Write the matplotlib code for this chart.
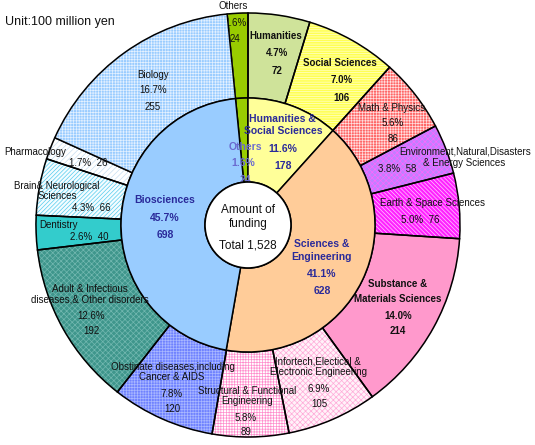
import matplotlib
matplotlib.use("Agg")
import matplotlib.pyplot as plt
from matplotlib.patches import Circle

plt.rcParams['font.family'] = ['Liberation Sans', 'DejaVu Sans']
plt.rcParams['hatch.linewidth'] = 0.5

# ---------------- data ----------------
inner_names = ["Others", "Humanities &\nSocial Sciences", "Sciences &\nEngineering", "Biosciences"]
inner_values = [24, 178, 628, 698]
inner_pcts = ["1.6%", "11.6%", "41.1%", "45.7%"]

outer_names = ["Others", "Humanities", "Social Sciences", "Math & Physics",
               "Environment,Natural,Disasters\n& Energy Sciences", "Earth & Space Sciences",
               "Substance &\nMaterials Sciences", "Infortech,Electical &\nElectronic Engineering",
               "Structural & Functional\nEngineering", "Obstinate diseases,including\nCancer & AIDS",
               "Adult & Infectious\ndiseases,& Other disorders", "Dentistry",
               "Brain& Neurological\nSciences", "Pharmacology", "Biology"]
outer_values = [24, 72, 106, 86, 58, 76, 214, 105, 89, 120, 192, 40, 66, 26, 255]
outer_pcts = ["1.6%", "4.7%", "7.0%", "5.6%", "3.8%", "5.0%", "14.0%", "6.9%", "5.8%",
              "7.8%", "12.6%", "2.6%", "4.3%", "1.7%", "16.7%"]
unit_label = "Unit:100 million yen"

# ---------------- styles ----------------
outer_face = ['#99cc00', '#cfe39a', '#ffff55', '#ff6666', '#c080ff', '#ff22ff', '#ff99cc',
              '#fff2f9', '#ffffff', '#6f82ff', '#3f968c', '#33cccc', '#f4fcff', '#ffffff', '#99ccff']
outer_hatch = [None, None, '-------', '++++++', 'xxxxxx', '\\\\\\\\\\\\\\\\', None,
               'xxxxxx', '++++++', '++++++', 'xxxxxx', None, '////////', '//////', '++++++']
outer_hcol = ['#99cc00', '#cfe39a', '#ffffd0', '#ffe0e0', '#ff66ff', '#ffccff', '#ff99cc',
              '#ffaad8', '#ff8ccc', '#aab8ff', '#72b8b0', '#33cccc', '#55ccee', '#c8dff2', '#e4f1ff']
inner_face = ['#99cc00', '#ffff99', '#ffcc99', '#99ccff']

# text layout (pixel positions in the 535x445 image, y measured from top)
outer_layout = [
    [(233, 6), (235, 23), (235, 39)],
    [(276, 36), (277, 53), (277, 71)],
    [(340, 63), (342, 80), (342, 98)],
    [(392, 108), (393, 123), (393, 139)],
    [(465, 152), (464, 163), (397, 169)],
    [(432, 203), (420, 220)],
    [(398, 284), (398, 299), (398, 316), (398, 331)],
    [(318, 362), (319, 372), (319, 389), (319, 404)],
    [(247, 391), (247, 401), (246, 418), (246, 432)],
    [(173, 367), (172, 377), (172, 394), (172, 409)],
    [(90, 289), (90, 300), (91, 316), (91, 331)],
    [(59, 225), (89, 237)],
    [(57, 186), (57, 196), (91, 208)],
    [(35, 152), (88, 163)],
    [(153, 75), (153, 90), (153, 107)],
]
outer_bold = [False, True, True, False, False, False, True, False, False, False, False, False,
              False, False, False]
inner_layout = [
    [(245, 147), (243, 163), (245, 180)],
    [(282, 119), (283, 131), (283, 149), (283, 166)],
    [(322, 244), (322, 257), (322, 274), (322, 291)],
    [(165, 200), (165, 218), (165, 235)],
]
inner_col = ['#6a6ad0', '#2a2a9a', '#2a2a9a', '#2a2a9a']

W, H = 535, 445
CX, CY = 248, H - 225
R_OUT, R_MID, R_IN = 212, 127, 43

fig = plt.figure(figsize=(W / 100, H / 100), dpi=100)
ax = fig.add_axes([0, 0, 1, 1])

start = 90 + 360 * outer_values[0] / sum(outer_values)

# outer ring: fill + hatch pass
wo, _ = ax.pie(outer_values, radius=R_OUT, center=(CX, CY), startangle=start, counterclock=False,
               colors=outer_face, wedgeprops=dict(width=R_OUT - R_MID, linewidth=0.6))
for w, hcol, h in zip(wo, outer_hcol, outer_hatch):
    w.set_edgecolor(hcol)
    if h:
        w.set_hatch(h)
    w.set_zorder(1)
# outline pass
wo2, _ = ax.pie(outer_values, radius=R_OUT, center=(CX, CY), startangle=start, counterclock=False,
                wedgeprops=dict(width=R_OUT - R_MID, fill=False, edgecolor='black', linewidth=1.1))
for w in wo2:
    w.set_zorder(1.2)
# Biology wedge drawn above to partially hide the small Others label
wo[-1].set_zorder(2)
wo2[-1].set_zorder(2.1)

wi, _ = ax.pie(inner_values, radius=R_MID, center=(CX, CY), startangle=start, counterclock=False,
               colors=inner_face, wedgeprops=dict(width=R_MID - R_IN, edgecolor='black', linewidth=1.1))
for w in wi:
    w.set_zorder(3)

ax.add_patch(Circle((CX, CY), R_IN, facecolor='white', edgecolor='black', linewidth=1.2, zorder=6))

ax.set_xlim(0, W)
ax.set_ylim(0, H)
ax.set_aspect('equal')
ax.set_axis_off()


def put(x, y, s, **kw):
    ax.text(x, H - y, s, ha='center', va='center', **kw)


# outer labels
for i, name in enumerate(outer_names):
    lines = name.split('\n')
    pos = outer_layout[i]
    n = len(lines)
    extra = [outer_pcts[i], str(outer_values[i])] if len(pos) == n + 2 else \
        [f"{outer_pcts[i]}  {outer_values[i]}"]
    allines = lines + extra
    fw = 'bold' if outer_bold[i] else 'normal'
    z = 1.5 if i == 0 else 4
    for (x, y), s in zip(pos, allines):
        put(x, y, s, fontsize=7, color='#111111', fontweight=fw, zorder=z)

# inner labels
for i, name in enumerate(inner_names):
    lines = name.split('\n') + [inner_pcts[i], str(inner_values[i])]
    for (x, y), s in zip(inner_layout[i], lines):
        put(x, y, s, fontsize=7.5, color=inner_col[i], fontweight='bold', zorder=5)

# centre
put(CX, 210, "Amount of", fontsize=8.5, color='#111111', zorder=7)
put(CX, 224, "funding", fontsize=8.5, color='#111111', zorder=7)
put(CX, 246, f"Total {sum(inner_values):,}", fontsize=8.5, color='#111111', zorder=7)

ax.text(5, H - 22, unit_label, ha='left', va='center', fontsize=9, color='#111111')

fig.savefig("out.png", dpi=100)
